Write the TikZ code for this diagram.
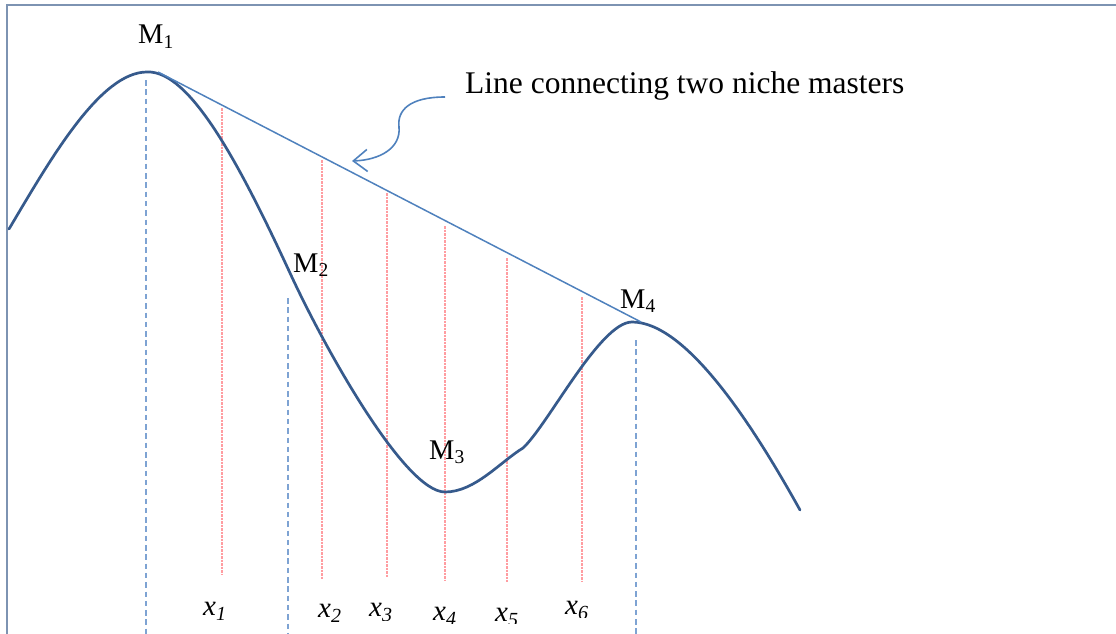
\documentclass[tikz,border=0pt]{standalone}
\usepackage{fontspec}
\setmainfont{Liberation Serif}
\usetikzlibrary{arrows.meta}
\definecolor{framec}{HTML}{7D93B2}
\definecolor{curvec}{HTML}{365A8C}
\definecolor{linec}{HTML}{4F81BD}
\definecolor{dashc}{HTML}{7EA3D3}
\definecolor{redc}{HTML}{FF9DA1}
\tikzset{
  mlabel/.style={anchor=base west, inner sep=0pt, font=\fontsize{28.5}{30}\selectfont},
  xlabel/.style={anchor=base west, inner sep=0pt, font=\fontsize{29}{30}\selectfont\itshape},
  bluedash/.style={draw=dashc, line width=1.8pt, dash pattern=on 5.5pt off 3.8pt},
  reddot/.style={draw=redc, line width=1.2pt, dash pattern=on 2.5pt off 1pt},
}
\newcommand{\msub}[1]{\raisebox{-0.15em}{\fontsize{19.5}{19.5}\selectfont #1}}
\newcommand{\xsub}[1]{\raisebox{-0.18em}{\fontsize{20}{20}\selectfont\itshape #1}}
\begin{document}
\begin{tikzpicture}[x=1pt,y=-1pt]
\useasboundingbox (0,0) rectangle (1116,634);
% frame
\draw[framec, line width=2.2pt] (7,634) -- (7,5) -- (1116,5);
% dashed blue verticals
\coordinate (d1t) at (146,80);  \coordinate (d1b) at (146,634);
\coordinate (d2t) at (288,298); \coordinate (d2b) at (288,634);
\coordinate (d3t) at (636,340); \coordinate (d3b) at (636,634);
\draw[bluedash] (d1t) -- (d1b);
\draw[bluedash] (d2t) -- (d2b);
\draw[bluedash] (d3t) -- (d3b);
% red dotted verticals
\foreach \n/\x/\t/\b in {1/222/108/575, 2/322/160/580, 3/387/193/578, 4/445/226/580, 5/507/258/582, 6/582/297/582}{
  \coordinate (r\n t) at (\x,\t);
  \coordinate (r\n b) at (\x,\b);
  \draw[reddot] (r\n t) -- (r\n b);
}
% main curve
\draw[curvec, line width=2.7pt, line join=round, line cap=round]
  (9,229) .. controls (50,160) and (100,72) .. (147,72)
  .. controls (190,70) and (240,165) .. (290,273)
  .. controls (325,349) and (405,492) .. (445,492)
  .. controls (475,492) and (500,462) .. (523,448)
  .. controls (548,425) and (600,322) .. (632,322)
  .. controls (685,322) and (750,420) .. (800,510);
% straight line connecting masters
\coordinate (m1p) at (158,72);
\coordinate (m4p) at (641,322);
\draw[linec, line width=1.5pt] (m1p) -- (m4p);
% labels
\node[mlabel] (M1) at (138,44) {M\msub{1}};
\node[mlabel] (M2) at (293,272) {M\msub{2}};
\node[mlabel] (M3) at (429,459) {M\msub{3}};
\node[mlabel] (M4) at (620,308) {M\msub{4}};
\node[anchor=base west, inner sep=0pt, font=\fontsize{31.5}{33}\selectfont] (cap) at (465,93) {Line connecting two niche masters};
% curved arrow
\coordinate (as) at (445,97);
\coordinate (ae) at (352,161);
\draw[linec, line width=1.6pt, -{Straight Barb[length=14pt,width=22pt,line width=1.6pt]}]
  (as) .. controls (410,97) and (397,110) .. (399,127)
       .. controls (401,148) and (380,160) .. (ae);
% x labels
\node[xlabel] (x1) at (203,615) {x\xsub{1}};
\node[xlabel] (x2) at (318,617) {x\xsub{2}};
\begin{scope}
\clip (360,560) rectangle (420,620);
\node[xlabel] (x3) at (369,616) {x\xsub{3}};
\end{scope}
\begin{scope}
\clip (425,560) rectangle (480,623);
\node[xlabel] (x4) at (433,620) {x\xsub{4}};
\end{scope}
\begin{scope}
\clip (488,560) rectangle (545,623);
\node[xlabel] (x5) at (495,621) {x\xsub{5}};
\end{scope}
\begin{scope}
\clip (560,560) rectangle (620,617);
\node[xlabel] (x6) at (565,614) {x\xsub{6}};
\end{scope}
\end{tikzpicture}
\end{document}
